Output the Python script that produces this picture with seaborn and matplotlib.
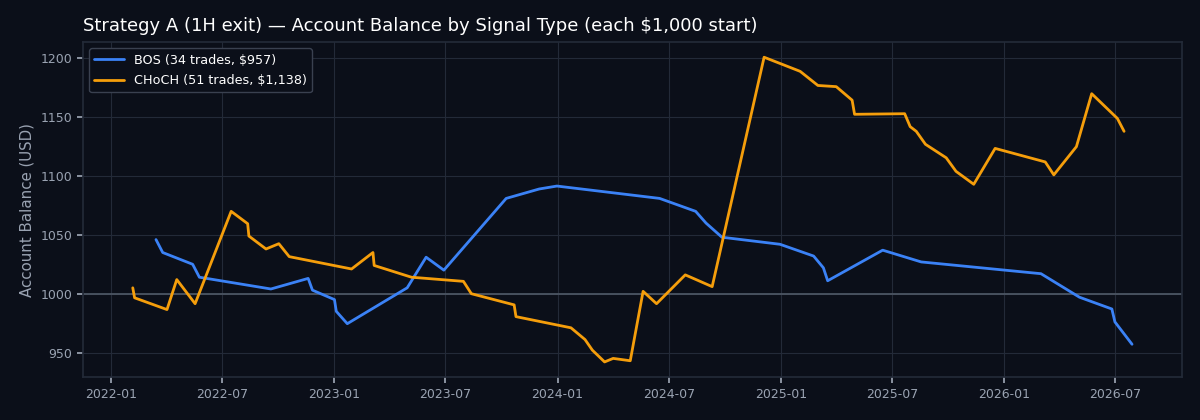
import pandas as pd
import matplotlib.pyplot as plt
import matplotlib.dates as mdates
import seaborn as sns

# --- datos ---
bos_dates = [
    "2022-03-15", "2022-03-26", "2022-05-14", "2022-05-25", "2022-09-19",
    "2022-11-19", "2022-11-26", "2023-01-01", "2023-01-04", "2023-01-22",
    "2023-04-30", "2023-05-31", "2023-06-29", "2023-10-09", "2023-12-02",
    "2023-12-31", "2024-06-16", "2024-08-14", "2024-08-31", "2024-09-26",
    "2024-12-30", "2025-02-23", "2025-03-11", "2025-03-18", "2025-06-16",
    "2025-08-18", "2026-03-02", "2026-05-04", "2026-06-26", "2026-07-01",
    "2026-07-29",
]
bos_balance = [
    1046, 1035, 1025, 1014, 1004,
    1013, 1003, 995, 985, 974.5,
    1005, 1031, 1020, 1081, 1089,
    1091.5, 1081, 1070, 1060, 1048,
    1042, 1032, 1022, 1011, 1037,
    1027, 1017, 997, 987, 976,
    957,
]

choch_dates = [
    "2022-02-05", "2022-02-08", "2022-04-02", "2022-04-18", "2022-05-18",
    "2022-07-16", "2022-08-12", "2022-08-14", "2022-09-11", "2022-10-02",
    "2022-10-19", "2023-01-29", "2023-03-05", "2023-03-07", "2023-05-07",
    "2023-07-31", "2023-08-13", "2023-10-22", "2023-10-25", "2024-01-23",
    "2024-02-15", "2024-02-27", "2024-03-18", "2024-04-01", "2024-04-29",
    "2024-05-20", "2024-06-11", "2024-07-28", "2024-09-10", "2024-12-04",
    "2025-02-01", "2025-03-02", "2025-04-01", "2025-04-27", "2025-05-01",
    "2025-07-22", "2025-07-31", "2025-08-10", "2025-08-25", "2025-09-28",
    "2025-10-14", "2025-11-12", "2025-12-17", "2026-03-09", "2026-03-23",
    "2026-04-29", "2026-05-24", "2026-07-05", "2026-07-16",
]
choch_balance = [
    1005, 996.5, 986.5, 1012, 991.5,
    1070, 1059.5, 1049, 1038, 1042.5,
    1031.5, 1021, 1035, 1024, 1014,
    1010.5, 1000, 990.5, 980.5, 971,
    961, 952, 942, 945, 943,
    1002, 991.5, 1016, 1006, 1201,
    1189, 1177, 1176, 1164.5, 1152.5,
    1153, 1142, 1138, 1127, 1115.5,
    1104, 1093, 1123.5, 1112, 1101,
    1125, 1170, 1149, 1138,
]

labels = ["BOS (34 trades, $957)", "CHoCH (51 trades, $1,138)"]
colores = ["#3b82f6", "#f59e0b"]

df = pd.concat([
    pd.DataFrame({"fecha": pd.to_datetime(bos_dates), "balance": bos_balance, "senal": labels[0]}),
    pd.DataFrame({"fecha": pd.to_datetime(choch_dates), "balance": choch_balance, "senal": labels[1]}),
], ignore_index=True)

# --- estilo oscuro ---
bg = "#0b0f19"
grid = "#232a38"
txt = "#9aa3b2"
sns.set_theme(style="darkgrid", rc={
    "figure.facecolor": bg,
    "axes.facecolor": bg,
    "axes.edgecolor": "#232a38",
    "grid.color": grid,
    "grid.linewidth": 0.8,
    "xtick.color": txt,
    "ytick.color": txt,
    "axes.labelcolor": txt,
    "text.color": "white",
    "xtick.bottom": True,
    "ytick.left": True,
})
plt.rcParams["font.family"] = ["DejaVu Sans"]

fig, ax = plt.subplots(figsize=(12, 4.2), dpi=100)
fig.subplots_adjust(left=0.069, right=0.985, top=0.9, bottom=0.102)

ax.axhline(1000, color="#4b5563", linewidth=1.3, zorder=1)
sns.lineplot(data=df, x="fecha", y="balance", hue="senal", palette=colores,
             linewidth=2, ax=ax, estimator=None, sort=False, zorder=3)

ax.xaxis.set_major_locator(mdates.MonthLocator(bymonth=[1, 7]))
ax.xaxis.set_major_formatter(mdates.DateFormatter("%Y-%m"))
ax.tick_params(labelsize=9, length=4, colors=txt)
for s in ax.spines.values():
    s.set_color("#232a38")

ax.set_xlabel("")
ax.set_ylabel("Account Balance (USD)", fontsize=10.8, color=txt)
ax.set_title("Strategy A (1H exit) — Account Balance by Signal Type (each $1,000 start)",
             loc="left", fontsize=13, color="white", pad=8)

leg = ax.legend(loc="upper left", fontsize=9.2, frameon=True, facecolor=bg,
                edgecolor="#3a4150", framealpha=1, labelspacing=0.6,
                handlelength=2.3)
for t in leg.get_texts():
    t.set_color("white")

plt.savefig("out.png", dpi=100, facecolor=bg)
